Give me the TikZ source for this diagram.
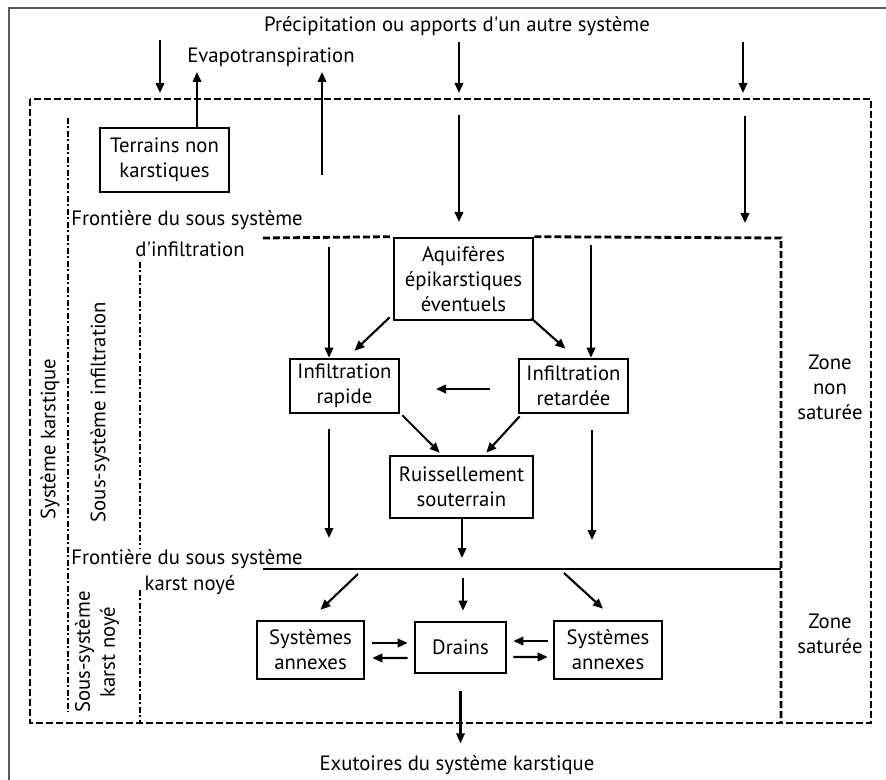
\documentclass[tikz,border=0pt]{standalone}
\usepackage{fontspec}
\setmainfont{PT Sans}
\usetikzlibrary{arrows.meta}

\begin{document}
\begin{tikzpicture}[
    x=0.02cm, y=-0.02cm,
    font=\fontsize{11.8}{14.2}\selectfont,
    box/.style={rectangle, draw, line width=1.5pt, inner sep=0pt, align=center},
    lbl/.style={align=center, inner sep=0pt},
    flow/.style={line width=1.2pt, -{Triangle[length=2mm,width=1.7mm]}},
    border/.style={line width=1.6pt, dash pattern=on 1.4mm off 0.6mm},
    limit/.style={line width=1.4pt, dash pattern=on 1.2mm off 0.5mm on 0.4mm off 0.5mm}
]
\definecolor{frame}{RGB}{90,90,90}
\useasboundingbox (0,0) rectangle (886,780);
\draw[frame, line width=0.9pt] (9,780) -- (9,8) -- (886,8);

\node[lbl] (precip) at (457,26) {Précipitation ou apports d\textquotesingle un autre système};
\node[lbl] (evap) at (271,57) {Evapotranspiration};
\node[lbl] (exut) at (457,765) {Exutoires du système karstique};

\node[box, minimum width=2.58cm, minimum height=1.28cm] (terr) at (164.5,160) {Terrains non\\karstiques};
\node[box, minimum width=2.78cm, minimum height=1.64cm] (aqui) at (463.5,279) {Aquifères\\épikarstiques\\éventuels};
\node[box, minimum width=2.18cm, minimum height=1.08cm] (rapide) at (344.5,386) {Infiltration\\rapide};
\node[box, minimum width=2.18cm, minimum height=1.08cm] (retard) at (573.5,386) {Infiltration\\retardée};
\node[box, minimum width=2.86cm, minimum height=1.24cm] (ruis) at (461.5,487) {Ruissellement\\souterrain};
\node[box, minimum width=2.14cm, minimum height=1.16cm] (annL) at (310.5,650) {Systèmes\\annexes};
\node[box, minimum width=1.82cm, minimum height=1.02cm] (drains) at (460.5,647.5) {Drains};
\node[box, minimum width=2.16cm, minimum height=1.16cm] (annR) at (608,650) {Systèmes\\annexes};

\node[lbl] (front1) at (187,220) {Frontière du sous système};
\node[lbl] (front1b) at (190,249) {d\textquotesingle infiltration};
\node[lbl] (front2) at (187,559) {Frontière du sous système};
\node[lbl] (front2b) at (190,585) {karst noyé};
\node[lbl] (zns) at (830,387) {Zone\\non\\saturée};
\node[lbl] (zs) at (830,634) {Zone\\saturée};
\node[lbl, rotate=90] (syst) at (50,439) {Système karstique};
\node[lbl, rotate=90] (ssinf) at (100,412) {Sous-système infiltration};
\node[lbl, rotate=90] (sskn) at (97,652) {Sous-système\\karst noyé};

\draw[border] (30,99) rectangle (871,723);
\draw[limit] (68,118) -- (68,712);
\draw[limit] (140,262) -- (140,548);
\draw[limit] (140,590) -- (140,723);
\draw[border] (263,238) -- (aqui.north west);
\draw[border] (aqui.north east) -- (781,238) -- (781,723);
\draw[line width=1.4pt] (263,569) -- (781,569);

\coordinate (p1) at (160,40);  \coordinate (q1) at (160,93);
\coordinate (e1) at (197,72);
\coordinate (p2) at (322,175); \coordinate (e2) at (322,72);
\coordinate (p3) at (459,42);  \coordinate (q3) at (459,93);
\coordinate (p4) at (743,42);  \coordinate (q4) at (743,93);
\coordinate (p5) at (459,115); \coordinate (q5) at (459,222);
\coordinate (p6) at (745,116); \coordinate (q6) at (745,223);
\coordinate (p7) at (329,247);
\coordinate (p8) at (591,245);
\coordinate (p9) at (490,389); \coordinate (q9) at (436,389);
\coordinate (p10) at (329,429); \coordinate (q10) at (329,538);
\coordinate (p11) at (592,430); \coordinate (q11) at (592,540);
\coordinate (q12) at (462,558);
\coordinate (p13) at (358,574);
\coordinate (p14) at (463,578);
\coordinate (p15) at (564,573);

\draw[flow] (p1) -- (q1);
\draw[flow] (terr.north -| e1) -- (e1);
\draw[flow] (p2) -- (e2);
\draw[flow] (p3) -- (q3);
\draw[flow] (p4) -- (q4);
\draw[flow] (p5) -- (q5);
\draw[flow] (p6) -- (q6);
\draw[flow] (p7) -- (p7 |- rapide.north);
\draw[flow] (p8) -- (p8 |- retard.north);
\draw[flow] ([shift={(-3,-4)}]aqui.south west) -- ([shift={(10,-7)}]rapide.north);
\draw[flow] ([shift={(-3,-3)}]aqui.south east) -- ([shift={(-8,-9)}]retard.north);
\draw[flow] (p9) -- (q9);
\draw[flow] ([shift={(2,1)}]rapide.south east) -- ([shift={(51,-2)}]ruis.north west);
\draw[flow] ([shift={(2,2)}]retard.south west) -- ([shift={(-48,-2)}]ruis.north east);
\draw[flow] (p10) -- (q10);
\draw[flow] (p11) -- (q11);
\draw[flow] (ruis.south -| q12) -- (q12);
\draw[flow] (p13) -- ([shift={(10,-10)}]annL.north);
\draw[flow] (p14) -- ([yshift=0.2cm]drains.north -| p14);
\draw[flow] (p15) -- ([shift={(-5,-11)}]annR.north);
\draw[flow] ([shift={(7,-7)}]annL.east) -- ([shift={(-6,-4.5)}]drains.west);
\draw[flow] ([shift={(-6,10.5)}]drains.west) -- ([shift={(7,8)}]annL.east);
\draw[flow] ([shift={(-5,-9)}]annR.west) -- ([shift={(6,-6.5)}]drains.east);
\draw[flow] ([shift={(6,9.5)}]drains.east) -- ([shift={(-5,7)}]annR.west);
\draw[flow] ([yshift=-0.34cm]drains.south) -- ([yshift=-1.38cm]drains.south);
\end{tikzpicture}
\end{document}
